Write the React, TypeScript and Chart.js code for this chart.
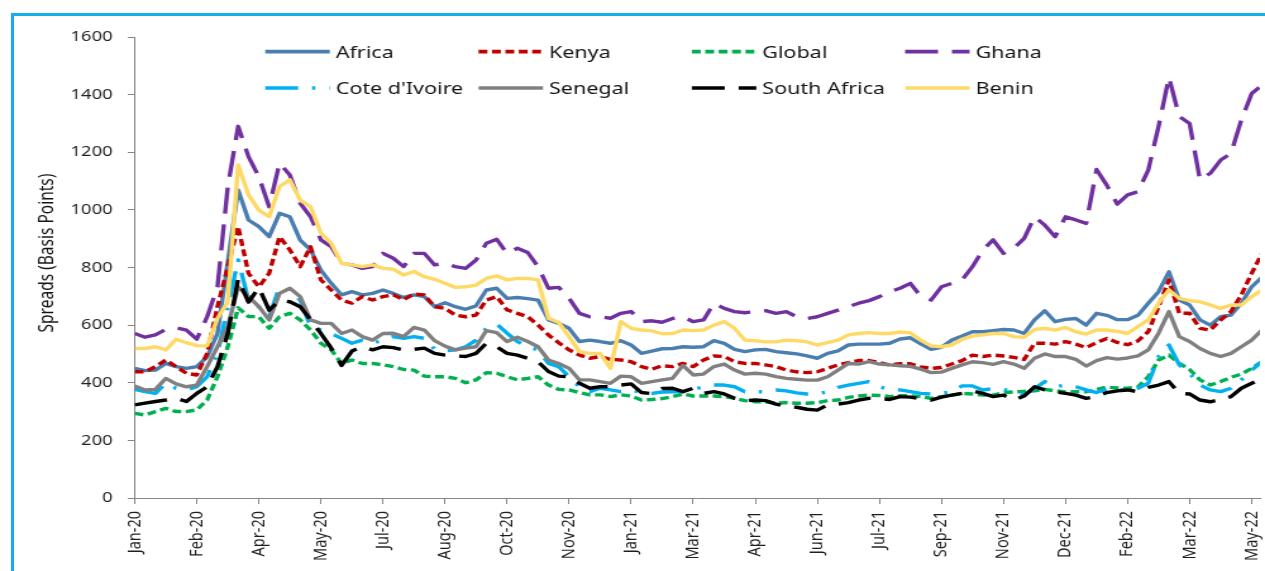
import React, { useEffect, useRef } from 'react';
import { Chart, registerables } from 'chart.js';

Chart.register(...registerables);

// ---- Data (one observation every ~1/6 of a tick interval) ----
const xTickLabels = ['Jan-20', 'Feb-20', 'Apr-20', 'May-20', 'Jul-20', 'Aug-20', 'Oct-20', 'Nov-20', 'Jan-21', 'Mar-21', 'Apr-21', 'Jun-21', 'Jul-21', 'Sep-21', 'Nov-21', 'Dec-21', 'Feb-22', 'Mar-22', 'May-22'];
const obsPerTick = 6;

const africa = [450,442,444,467,456,450,456,490,571,820, 1069,965,942,907,988,976,895,861,791,745, 705,716,705,710,722,710,696,705,699,664, 678,664,655,667,722,728,693,696,692,687, 618,606,589,543,548,543,537,546,531,502, 510,518,519,525,523,525,546,537,516,508, 514,516,508,504,500,493,485,502,511,531, 534,534,534,537,552,556,535,516,523,548, 562,577,577,581,585,583,571,618,650,612, 620,623,600,641,634,619,619,634,676,716, 785,687,670,618,600,629,635,676,733,766];
const kenya = [438,438,456,479,456,433,427,502,664,803, 942,780,733,780,907,861,803,872,757,722, 687,676,699,687,699,705,688,708,705,664, 658,635,629,635,687,699,653,641,629,600, 566,539,514,496,485,491,481,479,473,456, 447,459,456,467,456,479,493,491,473,467, 467,462,456,444,438,435,438,450,462,470, 477,477,470,462,466,466,455,450,453,465, 477,496,491,496,493,488,481,537,537,534, 543,534,522,539,554,540,532,545,577,664, 757,641,641,589,583,618,647,705,780,849];
const globalSpread = [294,288,300,311,300,300,306,340,421,525, 660,630,629,589,629,641,618,583,537,514, 467,479,467,467,462,456,446,444,423,421, 421,415,400,410,435,433,421,410,415,421, 392,377,375,366,358,358,352,358,354,340, 342,345,352,361,354,354,354,352,346,338, 334,334,329,331,329,329,331,338,340,349, 354,357,356,352,355,355,352,346,352,357, 363,361,357,357,366,368,370,372,377,372, 368,369,369,377,385,382,381,385,421,479, 496,467,446,410,392,404,419,430,450,473];
const ghana = [571,558,566,585,591,583,551,629,733,1081, 1290,1185,1115,1011,1162,1121,1023,976,896,872, 814,809,797,803,849,832,803,849,849,809, 815,803,797,826,884,898,849,867,852,803, 728,731,693,641,629,629,624,641,647,612, 615,610,623,629,612,618,676,658,647,643, 647,650,641,647,629,623,629,641,652,664, 676,685,699,716,728,745,700,687,733,745, 757,803,861,896,849,867,901,976,947,907, 976,965,953,1140,1085,1020,1052,1063,1138,1290, 1460,1324,1300,1104,1127,1173,1196,1312,1404,1433];
const coteDIvoire = [377,369,363,398,381,375,386,421,502,664, 826,687,664,629,733,716,687,595,583,571, 554,537,548,537,548,560,554,560,554,516, 511,514,525,548,589,604,572,543,525,514, 467,456,421,386,369,381,375,369,375,366, 363,368,369,369,377,386,392,392,386,369, 369,369,375,372,365,361,361,369,384,392, 398,404,386,377,375,369,363,361,363,369, 389,389,375,380,377,369,358,380,404,386, 392,386,375,366,378,376,375,381,398,491, 531,462,433,392,375,369,381,410,444,473];
const senegal = [389,375,377,415,396,386,392,456,525,595, 733,699,664,618,710,728,699,618,606,606, 571,583,560,548,571,572,560,592,583,546, 527,514,520,525,581,574,543,558,543,525, 479,467,450,410,410,404,398,423,421,398, 404,410,415,460,427,430,456,465,444,430, 433,430,421,415,412,409,409,421,444,467, 465,473,465,462,459,457,447,435,437,450, 462,473,470,464,473,465,450,485,500,491, 491,481,458,477,487,482,486,493,514,572, 647,560,543,519,502,491,502,525,548,583];
const southAfrica = [323,329,335,340,346,335,363,386,456,571, 760,680,730,652,687,681,664,618,571,520, 460,510,525,514,525,522,514,516,520,502, 496,493,491,502,537,525,502,496,485,473, 439,423,421,398,381,386,386,392,396,366, 362,380,381,369,381,363,369,361,346,338, 340,338,326,317,315,308,305,323,326,331, 340,346,345,342,352,350,344,340,350,357, 363,372,363,352,357,340,354,386,375,369, 363,357,346,352,366,372,375,369,384,392, 404,363,361,340,334,342,352,381,398,415];
const benin = [519,519,525,514,551,539,529,528,624,680, 1156,1052,999,976,1081,1104,1034,1011,919,884, 814,809,803,809,797,794,774,786,768,759, 745,731,733,739,762,771,757,762,762,757, 624,609,560,508,502,502,450,612,589,583, 580,570,571,583,581,583,600,612,589,548, 546,542,542,548,546,542,531,539,548,566, 571,574,571,571,576,573,548,528,525,531, 551,562,566,571,571,560,558,585,589,583, 592,577,569,583,583,578,571,595,618,676, 722,693,685,681,670,658,670,670,699,722];

const seriesNames = ['Africa', 'Kenya', 'Global', 'Ghana', "Cote d'Ivoire", 'Senegal', 'South Africa', 'Benin'];
const seriesValues = [africa, kenya, globalSpread, ghana, coteDIvoire, senegal, southAfrica, benin];
const seriesColors = ['#4a7eb0', '#c00000', '#00b050', '#7030a0', '#00b0f0', '#808080', '#000000', '#ffd966'];
const seriesDashes: number[][] = [[], [7, 3.6], [7, 3.6], [26, 11], [26, 11, 2.5, 11], [], [26, 11], []];

const yTitle = 'Spreads (Basis Points)';

// ---- Layout (canvas is drawn 1000 wide, then stretched to 1265 like the source) ----
const CW = 1000;
const CH = 571;
const FONT = '"Noto Sans", sans-serif';

export default function App() {
  const ref = useRef<HTMLCanvasElement | null>(null);

  useEffect(() => {
    const canvas = ref.current;
    if (!canvas) return;

    const legendPlugin = {
      id: 'customLegendAndTitle',
      afterDatasetsDraw(chart: any) {
        const ctx = chart.ctx as CanvasRenderingContext2D;
        ctx.save();
        const ds = chart.data.datasets;
        const x0 = 209.7, dx = 168.6, y0 = 51.7, dy = 36.3, len = 51;
        ds.forEach((d: any, k: number) => {
          const col = k % 4;
          const row = Math.floor(k / 4);
          const x = x0 + col * dx;
          const y = y0 + row * dy;
          ctx.beginPath();
          ctx.setLineDash(d.borderDash || []);
          ctx.lineDashOffset = 0;
          ctx.strokeStyle = d.borderColor;
          ctx.lineWidth = 3.7;
          ctx.lineCap = 'butt';
          ctx.moveTo(x, y);
          ctx.lineTo(x + len, y);
          ctx.stroke();
          ctx.setLineDash([]);
          ctx.fillStyle = '#141414';
          ctx.font = `17px ${FONT}`;
          ctx.textAlign = 'left';
          ctx.textBaseline = 'alphabetic';
          ctx.fillText(d.label, x + len + 4.7, y + 6.3);
        });
        ctx.translate(38, 253);
        ctx.rotate(-Math.PI / 2);
        ctx.font = `15.5px ${FONT}`;
        ctx.textAlign = 'center';
        ctx.textBaseline = 'middle';
        ctx.fillStyle = '#141414';
        ctx.fillText(yTitle, 0, 0);
        ctx.restore();
      },
    };

    const chart = new Chart(canvas, {
      type: 'line',
      data: {
        datasets: seriesNames.map((name, i) => ({
          label: name,
          data: seriesValues[i].map((v, j) => ({ x: j, y: v })),
          borderColor: seriesColors[i],
          backgroundColor: seriesColors[i],
          borderDash: seriesDashes[i],
          borderWidth: 3.4,
          borderJoinStyle: 'round',
          pointRadius: 0,
          pointHoverRadius: 0,
          tension: 0,
          fill: false,
          order: 7 - i,
        })),
      },
      options: {
        responsive: false,
        animation: false,
        devicePixelRatio: 1,
        events: [],
        layout: { padding: { top: 37, right: 4, left: 0, bottom: 0 } },
        plugins: { legend: { display: false }, tooltip: { enabled: false }, title: { display: false } },
        scales: {
          x: {
            type: 'linear',
            min: 0,
            max: 108.8,
            afterFit(s: any) {
              s.height = 73;
              s.paddingLeft = 0;
              s.paddingRight = 0;
            },
            border: { display: true, color: '#868686', width: 1 },
            grid: { display: true, drawOnChartArea: false, drawTicks: true, tickLength: 6, color: '#868686' },
            ticks: {
              stepSize: obsPerTick,
              includeBounds: false,
              autoSkip: false,
              minRotation: 90,
              maxRotation: 90,
              padding: 7,
              color: '#1e1e1e',
              font: { family: FONT, size: 14.5 },
              callback: (v: any) => {
                const k = Math.round(Number(v) / obsPerTick);
                return xTickLabels[k] ?? '';
              },
            },
          },
          y: {
            min: 0,
            max: 1600,
            afterFit(s: any) {
              s.width = 106.5;
              s.paddingTop = 0;
              s.paddingBottom = 0;
            },
            border: { display: true, color: '#868686', width: 1 },
            grid: { display: true, drawOnChartArea: false, drawTicks: true, tickLength: 5.5, color: '#868686' },
            ticks: {
              stepSize: 200,
              padding: 12,
              color: '#1e1e1e',
              font: { family: FONT, size: 14.5 },
              callback: (v: any) => String(v),
            },
          },
        },
      },
      plugins: [legendPlugin],
    } as any);

    return () => chart.destroy();
  }, []);

  return (
    <div style={{ position: 'fixed', left: 0, top: 0, width: 1265, height: 571, overflow: 'hidden', background: '#ffffff' }}>
      <canvas
        ref={ref}
        width={CW}
        height={CH}
        style={{ position: 'absolute', left: 0, top: 0, width: '1265px', height: '571px', display: 'block' }}
      />
      <div
        style={{
          position: 'absolute',
          left: 11,
          top: 13,
          width: 1300,
          height: 620,
          borderLeft: '3px solid #16aeea',
          borderTop: '3px solid #16aeea',
          boxSizing: 'border-box',
          pointerEvents: 'none',
        }}
      />
    </div>
  );
}
